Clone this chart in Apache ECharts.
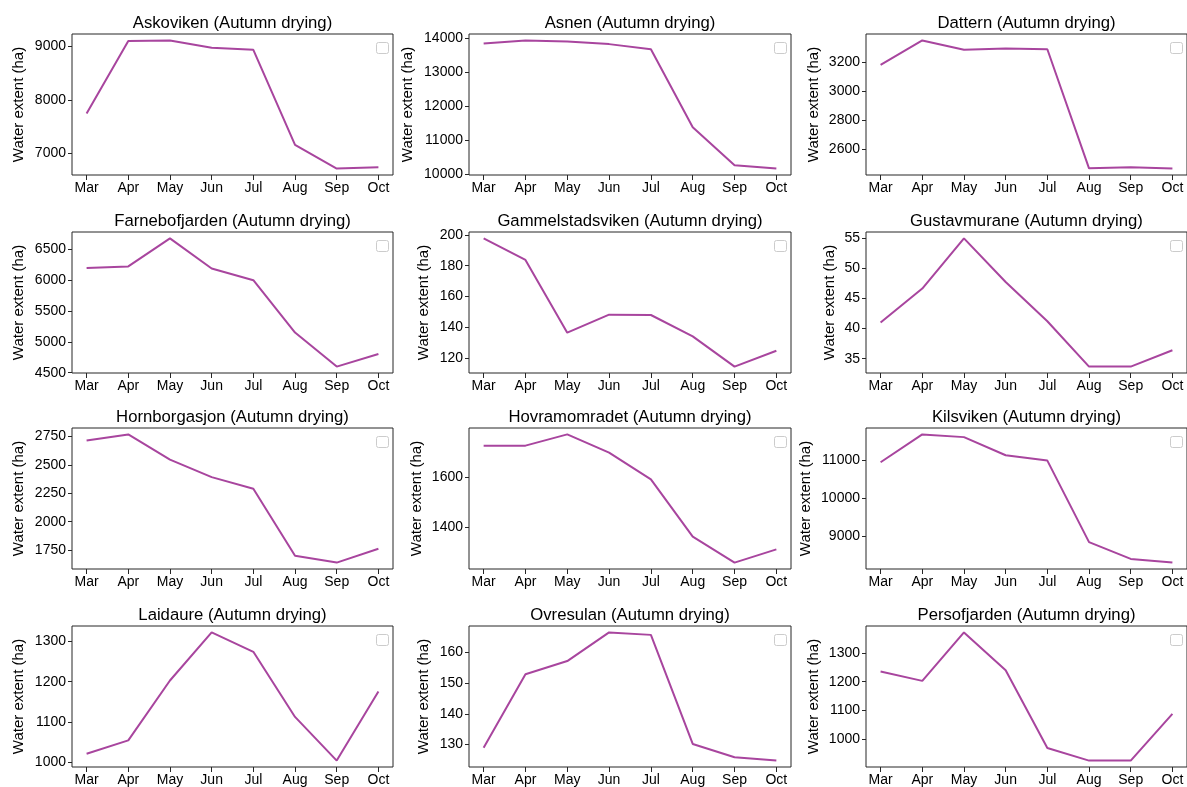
<!DOCTYPE html>
<html>
<head>
<meta charset="utf-8">
<script src="https://cdn.jsdelivr.net/npm/echarts@6/dist/echarts.min.js"></script>
<style>
html,body{margin:0;padding:0;background:#fff;}
#chart{width:1187px;height:787px;}
</style>
</head>
<body>
<div id="chart"></div>
<script>
// ---- data ----
const months = ['Mar', 'Apr', 'May', 'Jun', 'Jul', 'Aug', 'Sep', 'Oct'];
const lakeNames = ['Askoviken', 'Asnen', 'Dattern', 'Farnebofjarden', 'Gammelstadsviken', 'Gustavmurane',
  'Hornborgasjon', 'Hovramomradet', 'Kilsviken', 'Laidaure', 'Ovresulan', 'Persofjarden'];
const titleSuffix = ' (Autumn drying)';
const yAxisName = 'Water extent (ha)';

const askoviken = [7745, 9094, 9107, 8969, 8931, 7161, 6717, 6743];
const asnen = [13834, 13923, 13893, 13814, 13666, 11369, 10257, 10157];
const dattern = [3184, 3353, 3288, 3297, 3292, 2468, 2475, 2466];
const farnebofjarden = [6192, 6219, 6673, 6186, 5997, 5149, 4598, 4802];
const gammelstadsviken = [197.8, 183.8, 136.4, 148.1, 147.9, 134.0, 114.3, 124.6];
const gustavmurane = [41.0, 46.6, 54.9, 47.7, 41.2, 33.7, 33.7, 36.4];
const hornborgasjon = [2715, 2768, 2546, 2392, 2290, 1700, 1640, 1762];
const hovramomradet = [1727, 1727, 1772, 1699, 1592, 1362, 1258, 1311];
const kilsviken = [10947, 11685, 11613, 11133, 10991, 8831, 8387, 8289];
const laidaure = [1022, 1055, 1203, 1322, 1274, 1113, 1005, 1176];
const ovresulan = [129.0, 152.8, 157.1, 166.4, 165.6, 130.2, 125.9, 124.8];
const persofjarden = [1236, 1203, 1372, 1240, 969, 925, 925, 1088];

const ticksAskoviken = [7000, 8000, 9000];
const ticksAsnen = [10000, 11000, 12000, 13000, 14000];
const ticksDattern = [2600, 2800, 3000, 3200];
const ticksFarnebofjarden = [4500, 5000, 5500, 6000, 6500];
const ticksGammelstadsviken = [120, 140, 160, 180, 200];
const ticksGustavmurane = [35, 40, 45, 50, 55];
const ticksHornborgasjon = [1750, 2000, 2250, 2500, 2750];
const ticksHovramomradet = [1400, 1600];
const ticksKilsviken = [9000, 10000, 11000];
const ticksLaidaure = [1000, 1100, 1200, 1300];
const ticksOvresulan = [130, 140, 150, 160];
const ticksPersofjarden = [1000, 1100, 1200, 1300];

const seriesValues = [askoviken, asnen, dattern, farnebofjarden, gammelstadsviken, gustavmurane,
  hornborgasjon, hovramomradet, kilsviken, laidaure, ovresulan, persofjarden];
const seriesTicks = [ticksAskoviken, ticksAsnen, ticksDattern, ticksFarnebofjarden, ticksGammelstadsviken,
  ticksGustavmurane, ticksHornborgasjon, ticksHovramomradet, ticksKilsviken, ticksLaidaure,
  ticksOvresulan, ticksPersofjarden];

// ---- layout ----
const colLeft = [72, 469, 866];
const colWidth = [321, 322, 321];
const rowTop = [34, 232, 428, 626];
const plotH = 141;
const nameGaps = [46, 54, 45, 46, 38, 29, 46, 45, 53, 46, 38, 45];
const lineColor = '#a8459e';
const axisColor = '#262626';
const fontFamily = "'Liberation Sans', Arial, Helvetica, sans-serif";

const grids = [], xAxes = [], yAxes = [], series = [], titles = [], graphics = [];
lakeNames.forEach((name, i) => {
  const r = Math.floor(i / 3), c = i % 3;
  const left = colLeft[c], top = rowTop[r], w = colWidth[c];
  grids.push({left: left, top: top, width: w, height: plotH, containLabel: false,
    show: true, borderColor: axisColor, borderWidth: 1, backgroundColor: '#fff'});
  const idx = months.map((m, k) => k);
  xAxes.push({
    type: 'value', gridIndex: i, min: -0.35, max: 7.35, position: 'bottom',
    axisLine: {show: false, onZero: false},
    axisTick: {show: true, length: 5, lineStyle: {color: axisColor}, customValues: idx},
    axisLabel: {show: true, margin: 6, fontSize: 14, color: '#000', fontFamily: fontFamily,
      customValues: idx, formatter: v => months[Math.round(v)]},
    splitLine: {show: false}
  });
  const vals = seriesValues[i];
  const vmin = Math.min(...vals), vmax = Math.max(...vals);
  const pad = (vmax - vmin) * 0.05;
  yAxes.push({
    type: 'value', gridIndex: i, min: vmin - pad, max: vmax + pad, position: 'left',
    name: yAxisName, nameLocation: 'middle', nameRotate: 90, nameGap: nameGaps[i],
    nameTextStyle: {fontSize: 15, color: '#000', fontFamily: fontFamily},
    axisLine: {show: false, onZero: false},
    axisTick: {show: true, length: 4, lineStyle: {color: axisColor}, customValues: seriesTicks[i]},
    axisLabel: {show: true, margin: 6, fontSize: 14, color: '#000', fontFamily: fontFamily,
      customValues: seriesTicks[i], formatter: v => String(v)},
    splitLine: {show: false}
  });
  series.push({
    type: 'line', xAxisIndex: i, yAxisIndex: i,
    data: vals.map((v, k) => [k, v]),
    showSymbol: false, symbol: 'none',
    lineStyle: {color: lineColor, width: 2},
    itemStyle: {color: lineColor},
    z: 3
  });
  titles.push({
    text: name + titleSuffix,
    left: left + w / 2, top: top - 19, textAlign: 'center', padding: 0,
    textStyle: {fontSize: 16.7, fontWeight: 'normal', color: '#000', fontFamily: fontFamily}
  });
  graphics.push({
    type: 'rect', left: left + w - 17, top: top + 8,
    shape: {width: 12, height: 11, r: 2},
    style: {fill: '#fff', stroke: '#cccccc', lineWidth: 1}, z: 10
  });
});

const chart = echarts.init(document.getElementById('chart'), null, {renderer: 'canvas'});
chart.setOption({
  animation: false,
  backgroundColor: '#fff',
  title: titles,
  grid: grids,
  xAxis: xAxes,
  yAxis: yAxes,
  series: series,
  graphic: graphics
});
</script>
</body>
</html>
